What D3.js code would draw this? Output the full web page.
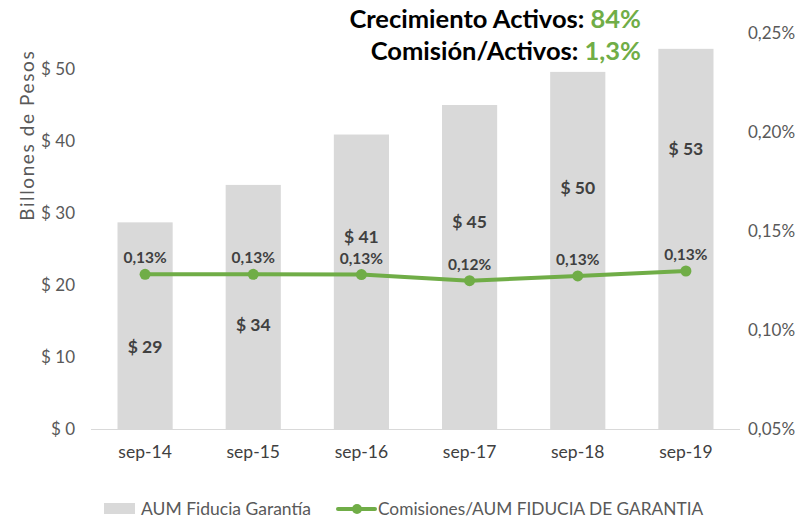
<!DOCTYPE html>
<html lang="en">
<head>
  <meta charset="utf-8"/>
  <script src="https://d3js.org/d3.v7.min.js"></script>
  <style>
    body { margin: 0; background: #fff; }
    svg text { font-family: Lato, "Open Sans", sans-serif; }
  </style>
</head>
<body>
<div id="chart"></div>
<script>
  // Chart data
  const periods = ["sep-14", "sep-15", "sep-16", "sep-17", "sep-18", "sep-19"];
  const aum = [28.7, 33.9, 40.9, 45.0, 49.6, 52.8];               // billones de pesos
  const comisionRatio = [0.1281, 0.1281, 0.1280, 0.1249, 0.1273, 0.1298]; // %
  const leftTicks = [0, 10, 20, 30, 40, 50];
  const rightTicks = [0.05, 0.10, 0.15, 0.20, 0.25];
  const headline = [
    {label: "Crecimiento Activos: ", value: "84%"},
    {label: "Comisión/Activos: ", value: "1,3%"}
  ];
  const seriesNames = ["AUM Fiducia Garantía", "Comisiones/AUM FIDUCIA DE GARANTIA"];

  const width = 805, height = 518;
  const margin = {top: 33, right: 65, bottom: 89, left: 91};
  const green = "#70ad47", barGray = "#d9d9d9";

  const svg = d3.select("#chart").append("svg")
    .attr("width", width)
    .attr("height", height);

  const x = d3.scaleBand()
    .domain(periods)
    .range([margin.left, width - margin.right])
    .paddingInner(0.49)
    .paddingOuter(0.245);

  const yLeft = d3.scaleLinear()
    .domain([0, 55])
    .range([height - margin.bottom, margin.top]);

  const yRight = d3.scaleLinear()
    .domain([0.05, 0.25])
    .range([height - margin.bottom, margin.top]);

  const fmtPct = d3.format(".2f");
  const pct = v => fmtPct(v).replace(".", ",") + "%";

  // Bars
  svg.append("g")
    .selectAll("rect")
    .data(aum)
    .join("rect")
    .attr("x", (d, i) => x(periods[i]))
    .attr("y", d => yLeft(d))
    .attr("width", x.bandwidth())
    .attr("height", d => yLeft(0) - yLeft(d))
    .attr("fill", barGray);

  // baseline
  svg.append("line")
    .attr("x1", margin.left).attr("x2", width - margin.right)
    .attr("y1", yLeft(0) + 0.5).attr("y2", yLeft(0) + 0.5)
    .attr("stroke", "#d9d9d9").attr("stroke-width", 1);

  // Left axis
  const leftAxis = svg.append("g")
    .attr("transform", `translate(${margin.left - 13},0)`)
    .call(d3.axisLeft(yLeft).tickValues(leftTicks).tickSize(0).tickFormat(d => "$ " + d));
  leftAxis.select(".domain").remove();
  leftAxis.selectAll("text")
    .attr("font-size", 17).attr("fill", "#595959")
    .style("font-family", "Lato, sans-serif");

  // Right axis
  const rightAxis = svg.append("g")
    .attr("transform", `translate(${width - margin.right + 5},0)`)
    .call(d3.axisRight(yRight).tickValues(rightTicks).tickSize(0).tickFormat(pct));
  rightAxis.select(".domain").remove();
  rightAxis.selectAll("text")
    .attr("font-size", 17).attr("fill", "#595959")
    .style("font-family", "Lato, sans-serif");

  // X axis labels
  const xAxis = svg.append("g")
    .attr("transform", `translate(0,${height - margin.bottom + 14})`)
    .call(d3.axisBottom(x).tickSize(0));
  xAxis.select(".domain").remove();
  xAxis.selectAll("text")
    .attr("font-size", 17.5).attr("fill", "#404040")
    .style("font-family", "Lato, sans-serif");

  // Y title
  svg.append("text")
    .attr("transform", `translate(34,${yLeft(40.8)}) rotate(-90)`)
    .attr("text-anchor", "middle")
    .attr("font-size", 19)
    .attr("letter-spacing", 1.6)
    .attr("fill", "#595959")
    .text("Billones de Pesos");

  // Bar value labels (placed by hand in the original, in axis units)
  const barLabelAt = [10.6, 13.6, 25.9, 27.9, 32.6, 38.1];
  svg.append("g")
    .selectAll("text")
    .data(aum)
    .join("text")
    .attr("x", (d, i) => x(periods[i]) + x.bandwidth() / 2)
    .attr("y", (d, i) => yLeft(barLabelAt[i]))
    .attr("text-anchor", "middle")
    .attr("font-size", 17.5)
    .attr("font-weight", 700)
    .attr("fill", "#404040")
    .text(d => "$ " + Math.round(d));

  // Line
  const cx = i => x(periods[i]) + x.bandwidth() / 2;
  const line = d3.line()
    .x((d, i) => cx(i))
    .y(d => yRight(d));

  svg.append("path")
    .datum(comisionRatio)
    .attr("d", line)
    .attr("fill", "none")
    .attr("stroke", green)
    .attr("stroke-width", 4)
    .attr("stroke-linejoin", "round");

  svg.append("g")
    .selectAll("circle")
    .data(comisionRatio)
    .join("circle")
    .attr("cx", (d, i) => cx(i))
    .attr("cy", d => yRight(d))
    .attr("r", 5.5)
    .attr("fill", green);

  svg.append("g")
    .selectAll("text")
    .data(comisionRatio)
    .join("text")
    .attr("x", (d, i) => cx(i))
    .attr("y", d => yRight(d) - 11)
    .attr("text-anchor", "middle")
    .attr("font-size", 15.5)
    .attr("font-weight", 700)
    .attr("fill", "#404040")
    .text(pct);

  // Headline
  const head = svg.append("g");
  headline.forEach((h, i) => {
    const t = head.append("text")
      .attr("x", 641)
      .attr("y", 28 + i * 32)
      .attr("text-anchor", "end")
      .attr("font-size", 25.5)
      .attr("font-weight", 700)
      .attr("fill", "#000");
    t.append("tspan").text(h.label);
    t.append("tspan").attr("fill", green).text(h.value);
  });

  // Legend
  const legend = svg.append("g").attr("transform", "translate(0,509)");
  legend.append("rect")
    .attr("x", 104).attr("y", -6)
    .attr("width", 31).attr("height", 11)
    .attr("fill", barGray);
  legend.append("text")
    .attr("x", 141).attr("y", 6)
    .attr("font-size", 17.5).attr("fill", "#595959")
    .text(seriesNames[0]);
  legend.append("line")
    .attr("x1", 338).attr("x2", 375)
    .attr("stroke", green).attr("stroke-width", 4).attr("stroke-linecap", "round");
  legend.append("circle")
    .attr("cx", 357).attr("r", 5).attr("fill", green);
  legend.append("text")
    .attr("x", 378).attr("y", 6)
    .attr("font-size", 17.3).attr("fill", "#595959")
    .text(seriesNames[1]);
</script>
</body>
</html>
